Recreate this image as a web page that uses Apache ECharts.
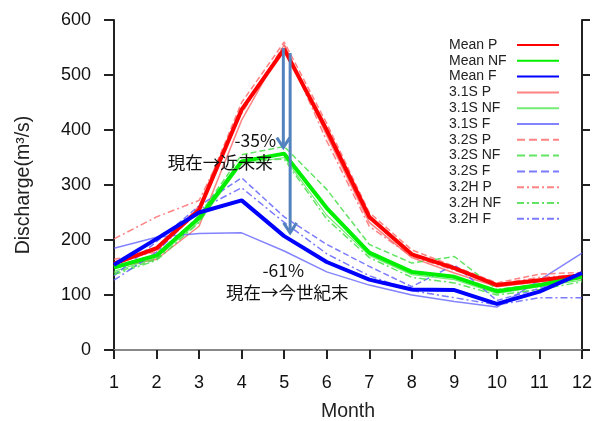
<!DOCTYPE html>
<html>
<head>
<meta charset="utf-8">
<script src="https://cdn.jsdelivr.net/npm/echarts@6/dist/echarts.min.js"></script>
<style>
  html, body { margin: 0; padding: 0; background: #fff; }
  #main { width: 593px; height: 421px; }
</style>
</head>
<body>
<div id="main"></div>
<script>
// 月別流量 (m3/s)
var months = [1, 2, 3, 4, 5, 6, 7, 8, 9, 10, 11, 12];
var yTicks = [0, 100, 200, 300, 400, 500, 600];

var meanP  = [157, 185, 255, 437, 547, 400, 242, 174, 149, 118, 127, 136];
var meanNF = [150, 172, 240, 343, 357, 258, 177, 142, 133, 107, 118, 133];
var meanF  = [155, 202, 250, 272, 207, 160, 128, 110, 109, 84, 106, 140];
var s31P   = [150, 165, 225, 418, 555, 390, 232, 168, 140, 115, 124, 130];
var s31NF  = [143, 168, 233, 338, 350, 245, 172, 137, 128, 103, 115, 127];
var s31F   = [185, 205, 212, 213, 180, 142, 118, 100, 88, 78, 127, 176];
var s32P   = [165, 178, 262, 450, 560, 412, 250, 182, 152, 122, 138, 141];
var s32NF  = [140, 165, 245, 355, 370, 292, 192, 158, 170, 110, 120, 136];
var s32F   = [135, 197, 262, 313, 242, 192, 152, 115, 155, 90, 112, 140];
var s32HP  = [202, 242, 272, 430, 555, 380, 225, 170, 145, 120, 132, 137];
var s32HNF = [137, 163, 232, 345, 347, 238, 168, 132, 122, 100, 110, 124];
var s32HF  = [127, 178, 255, 295, 232, 175, 135, 108, 95, 82, 95, 95];

// 矢印 [month, from, to]
var arrows = [[4.98, 549, 368], [5.14, 540, 213]];
// 注記 [month, value, text]
var notes = [
    [4.32, 382, '-35%'],
    [3.5, 342, '現在→近未来'],
    [4.98, 144, '-61%'],
    [5.07, 105, '現在→今世紀末']
];

var dashDot = [7, 3, 2, 3];
var font = "'Liberation Sans', Arial, sans-serif";

function pairs(arr) {
    return arr.map(function (v, i) { return [months[i], v]; });
}

function line(name, arr, color, width, type, z) {
    return {
        name: name,
        type: 'line',
        data: pairs(arr),
        symbol: 'none',
        z: z,
        itemStyle: {color: color},
        lineStyle: {color: color, width: width, type: type},
        emphasis: {disabled: true},
        animation: false
    };
}

var series = [
    line('3.1S P', s31P, 'rgba(255,90,90,0.75)', 1.5, 'solid', 2),
    line('3.1S NF', s31NF, 'rgba(70,230,70,0.75)', 1.2, 'solid', 2),
    line('3.1S F', s31F, 'rgba(90,90,255,0.75)', 1.5, 'solid', 2),
    line('3.2S P', s32P, 'rgba(255,90,90,0.75)', 1.5, 'dashed', 2),
    line('3.2S NF', s32NF, 'rgba(60,220,60,0.8)', 1.5, 'dashed', 2),
    line('3.2S F', s32F, 'rgba(90,90,255,0.8)', 1.5, 'dashed', 2),
    line('3.2H P', s32HP, 'rgba(255,90,90,0.75)', 1.5, dashDot, 2),
    line('3.2H NF', s32HNF, 'rgba(60,220,60,0.8)', 1.5, dashDot, 2),
    line('3.2H F', s32HF, 'rgba(90,90,255,0.8)', 1.5, dashDot, 2),
    line('Mean P', meanP, '#ff0000', 4, 'solid', 3),
    line('Mean NF', meanNF, '#00ee00', 4, 'solid', 3),
    line('Mean F', meanF, '#0000ff', 4, 'solid', 3),
    {
        type: 'custom',
        data: arrows,
        z: 5,
        silent: true,
        animation: false,
        renderItem: function (params, api) {
            var a = api.coord([api.value(0), api.value(1)]);
            var b = api.coord([api.value(0), api.value(2)]);
            var st = {stroke: '#5383bf', lineWidth: 3, fill: null};
            return {
                type: 'group',
                children: [
                    {type: 'line', shape: {x1: a[0], y1: a[1], x2: b[0], y2: b[1]}, style: st},
                    {type: 'polyline', shape: {points: [[b[0] - 6.5, b[1] - 10], [b[0], b[1]], [b[0] + 6.5, b[1] - 10]]}, style: st}
                ]
            };
        }
    },
    {
        type: 'custom',
        data: notes,
        z: 6,
        silent: true,
        animation: false,
        renderItem: function (params, api) {
            var p = api.coord([api.value(0), api.value(1)]);
            return {
                type: 'text',
                x: p[0], y: p[1],
                style: {
                    text: notes[params.dataIndex][2],
                    fill: '#111',
                    font: "17.5px 'Noto Sans CJK JP', sans-serif",
                    align: 'center',
                    verticalAlign: 'middle'
                }
            };
        }
    }
];

var chart = echarts.init(document.getElementById('main'), null, {renderer: 'canvas'});
chart.setOption({
    backgroundColor: '#fff',
    animation: false,
    grid: {left: 114, right: 11, top: 20, bottom: 71, containLabel: false, outerBoundsMode: 'none'},
    legend: {
        orient: 'vertical',
        left: 444,
        top: 33,
        align: 'right',
        itemWidth: 42,
        itemHeight: 10,
        itemGap: 1.8,
        selectedMode: false,
        itemStyle: {opacity: 0},
        data: ['Mean P', 'Mean NF', 'Mean F', '3.1S P', '3.1S NF', '3.1S F',
               '3.2S P', '3.2S NF', '3.2S F', '3.2H P', '3.2H NF', '3.2H F'],
        formatter: function (name) { return '{t|' + name + '}'; },
        textStyle: {
            fontFamily: font, fontSize: 14, color: '#222', lineHeight: 14,
            rich: {t: {fontFamily: font, fontSize: 14, color: '#222', width: 63, align: 'left'}}
        }
    },
    xAxis: [{
        type: 'value',
        min: 1, max: 12, interval: 1,
        name: 'Month',
        nameLocation: 'middle',
        nameGap: 52,
        nameTextStyle: {fontFamily: font, fontSize: 19.5, color: '#222'},
        axisLine: {lineStyle: {color: '#222', width: 2}},
        axisTick: {show: true, length: 9, lineStyle: {color: '#222', width: 2}},
        axisLabel: {fontFamily: font, fontSize: 18, color: '#111', margin: 24},
        splitLine: {show: false}
    }, {
        type: 'value',
        position: 'top',
        min: 1, max: 12,
        axisLine: {show: true, lineStyle: {color: '#888', width: 2}},
        axisTick: {show: false},
        axisLabel: {show: false},
        splitLine: {show: false}
    }],
    yAxis: [{
        type: 'value',
        min: 0, max: 600, interval: 100,
        name: 'Discharge(m³/s)',
        nameLocation: 'middle',
        nameGap: 80,
        nameTextStyle: {fontFamily: font, fontSize: 19.5, color: '#222'},
        axisLine: {show: true, lineStyle: {color: '#222', width: 2}},
        axisTick: {show: true, length: 10, lineStyle: {color: '#222', width: 2}},
        axisLabel: {fontFamily: font, fontSize: 18, color: '#111', margin: 23,
            formatter: function (v) { return yTicks.indexOf(v) >= 0 ? String(v) : ''; }},
        splitLine: {show: false}
    }, {
        type: 'value',
        position: 'right',
        min: 0, max: 600, interval: 100,
        axisLine: {show: true, lineStyle: {color: '#222', width: 2}},
        axisTick: {show: true, length: 8, lineStyle: {color: '#222', width: 2}},
        axisLabel: {show: false},
        splitLine: {show: false}
    }],
    series: series
});
</script>
</body>
</html>
